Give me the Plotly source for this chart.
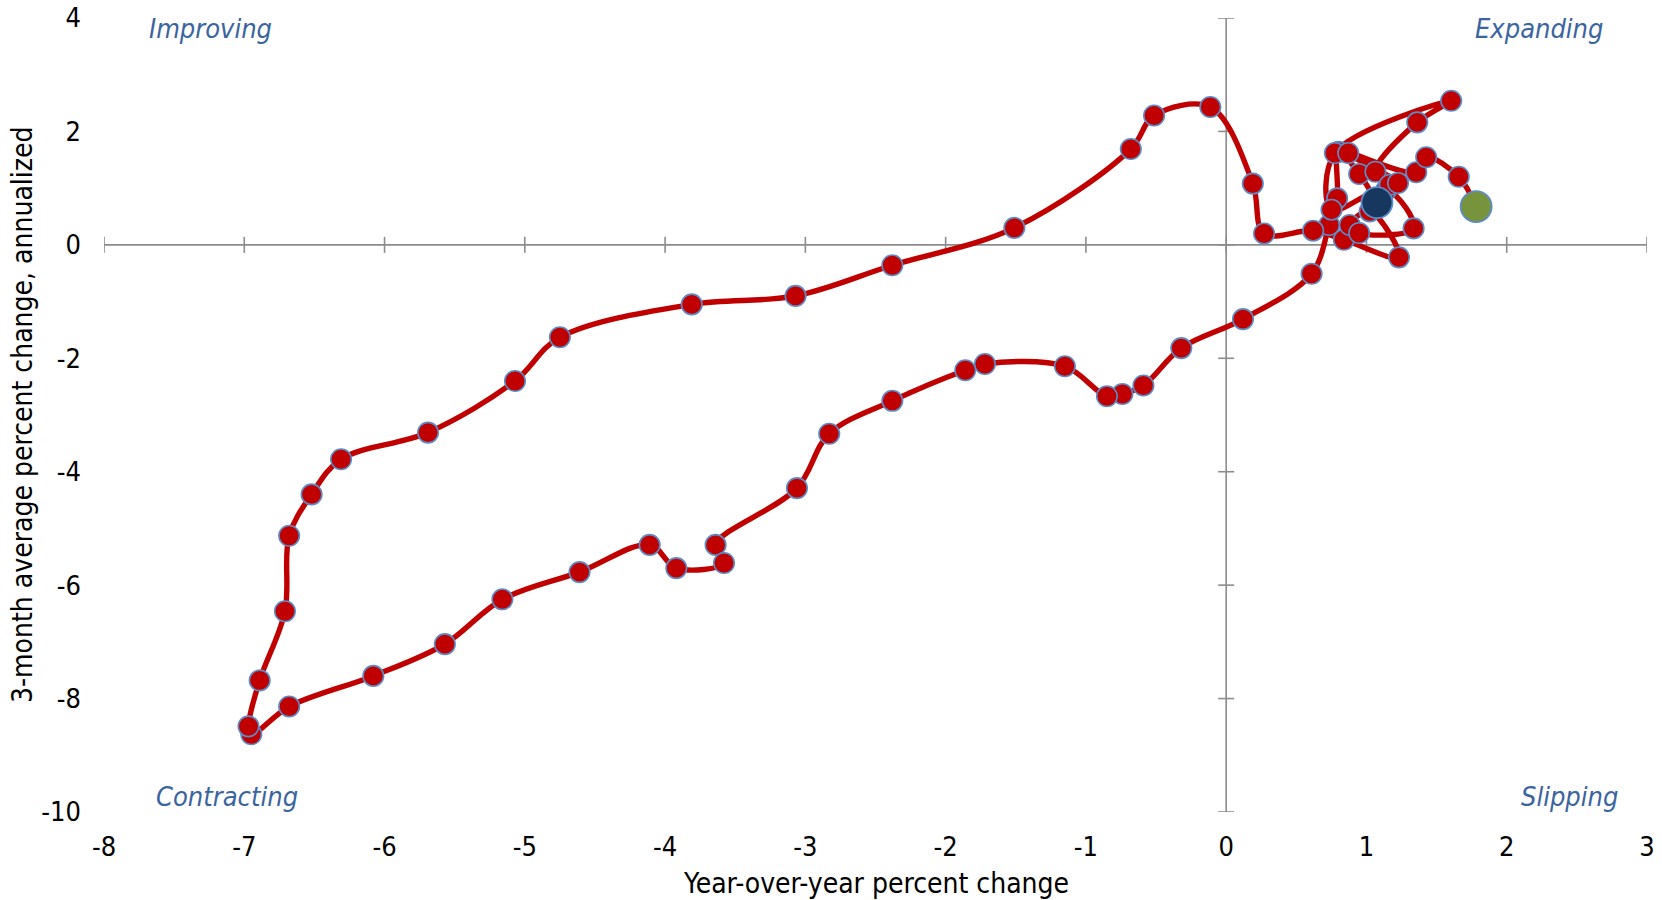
import plotly.graph_objects as go

# Year-over-year percent change (x) and 3-month average percent change, annualized (y), in time order
yoy = [1.075, 0.948, 0.80, 0.791, 0.734, 0.609,
       0.12, -0.32, -0.59, -0.74, -0.85, -1.15, -1.72, -1.86, -2.38, -2.83, -3.06,
       -3.64, -3.58, -3.92, -4.11, -4.61, -5.16, -5.57, -6.08, -6.68, -6.95, -6.97,
       -6.89, -6.71, -6.68, -6.52, -6.31, -5.69, -5.07, -4.75, -3.81, -3.07, -2.38,
       -1.51, -0.68, -0.514, -0.113, 0.19, 0.27,
       0.62, 0.839, 1.232, 1.023, 0.881, 0.948, 1.336, 1.142, 0.751, 0.775,
       1.604, 1.362, 1.064, 1.166, 1.225, 0.87, 1.355, 1.426, 1.658, 1.782]
mo3 = [0.745, 1.25, 1.64, 0.82, 0.35, -0.51,
       -1.31, -1.82, -2.48, -2.63, -2.67, -2.14, -2.10, -2.21, -2.75, -3.33, -4.29,
       -5.29, -5.61, -5.70, -5.29, -5.77, -6.25, -7.04, -7.60, -8.14, -8.63, -8.49,
       -7.68, -6.46, -5.13, -4.40, -3.78, -3.31, -2.40, -1.63, -1.05, -0.90, -0.36,
       0.30, 1.69, 2.28, 2.43, 1.08, 0.20,
       0.25, 0.09, -0.22, 0.59, 0.35, 0.21, 0.29, 0.97, 0.62, 1.62,
       2.54, 2.16, 1.29, 1.06, 1.09, 1.62, 1.28, 1.545, 1.20, 0.675]

x_ticks = list(range(-8, 4))
y_ticks = list(range(-10, 5, 2))
x_ticktext = [str(v) for v in x_ticks]
y_ticktext = [str(v) for v in y_ticks]

quadrants = ["Improving", "Expanding", "Contracting", "Slipping"]
x_title = "Year-over-year percent change"
y_title = "3-month average percent change, annualized"

FONT = "DejaVu Sans Condensed, DejaVu Sans, sans-serif"
RED = "#C00000"
EDGE = "#5B8CC8"
AXIS = "#8C8C8C"
LBL = "#3A64A0"

fig = go.Figure()
fig.add_trace(go.Scatter(
    x=yoy, y=mo3, mode="lines+markers",
    line=dict(color=RED, width=5.4, shape="spline", smoothing=1.0),
    marker=dict(size=20.5, color=RED, line=dict(color=EDGE, width=1.6)),
    showlegend=False, hoverinfo="skip"))
fig.add_trace(go.Scatter(
    x=[yoy[0]], y=[mo3[0]], mode="markers",
    marker=dict(size=31, color="#17375E", line=dict(color=EDGE, width=1.8)),
    showlegend=False))
fig.add_trace(go.Scatter(
    x=[yoy[-1]], y=[mo3[-1]], mode="markers",
    marker=dict(size=31, color="#77933C", line=dict(color=EDGE, width=1.8)),
    showlegend=False))

shapes = []
# axes crossing at zero
shapes.append(dict(type="line", xref="x", yref="y", x0=x_ticks[0], x1=x_ticks[-1], y0=0, y1=0,
                   line=dict(color=AXIS, width=1.6), layer="below"))
shapes.append(dict(type="line", xref="x", yref="y", x0=0, x1=0, y0=y_ticks[0], y1=y_ticks[-1],
                   line=dict(color=AXIS, width=1.6), layer="below"))
for v in x_ticks:
    shapes.append(dict(type="line", xref="x", yref="y", x0=v, x1=v, ysizemode="pixel", yanchor=0,
                       y0=-8, y1=8, line=dict(color=AXIS, width=1.6), layer="below"))
for v in y_ticks:
    shapes.append(dict(type="line", xref="x", yref="y", y0=v, y1=v, xsizemode="pixel", xanchor=0,
                       x0=-8, x1=8, line=dict(color=AXIS, width=1.6), layer="below"))

ann = []
qpos = [(0.0687, 0.987), (0.930, 0.987), (0.0797, 0.019), (0.9495, 0.019)]
for t, (px, py) in zip(quadrants, qpos):
    ann.append(dict(text="<i>" + t + "</i>", x=px, y=py, xref="paper", yref="paper",
                    showarrow=False, xanchor="center", yanchor="middle",
                    font=dict(family=FONT, size=27, color=LBL)))
ann.append(dict(text=x_title, x=0.5, y=-0.09, xref="paper", yref="paper", showarrow=False,
                xanchor="center", yanchor="middle", font=dict(family=FONT, size=28, color="#000000")))
ann.append(dict(text=y_title, x=-0.0531, y=0.5, xref="paper", yref="paper", showarrow=False,
                textangle=-90, xanchor="center", yanchor="middle",
                font=dict(family=FONT, size=28, color="#000000")))

fig.update_layout(
    width=1662, height=900,
    margin=dict(l=104, r=15, t=18, b=88),
    paper_bgcolor="white", plot_bgcolor="white",
    shapes=shapes, annotations=ann,
    font=dict(family=FONT, size=27, color="#000000"),
    xaxis=dict(range=[x_ticks[0], x_ticks[-1]], tickvals=x_ticks, ticktext=x_ticktext,
               showgrid=False, zeroline=False, automargin=False,
               showline=False, ticks="", ticklabelstandoff=16, fixedrange=True),
    yaxis=dict(range=[y_ticks[0], y_ticks[-1]], tickvals=y_ticks, ticktext=y_ticktext,
               showgrid=False, zeroline=False, automargin=False,
               showline=False, ticks="", ticklabelstandoff=22, fixedrange=True),
)

fig.write_html("out.html", config={"displayModeBar": False},
               post_script="document.body.style.margin='0px';")
